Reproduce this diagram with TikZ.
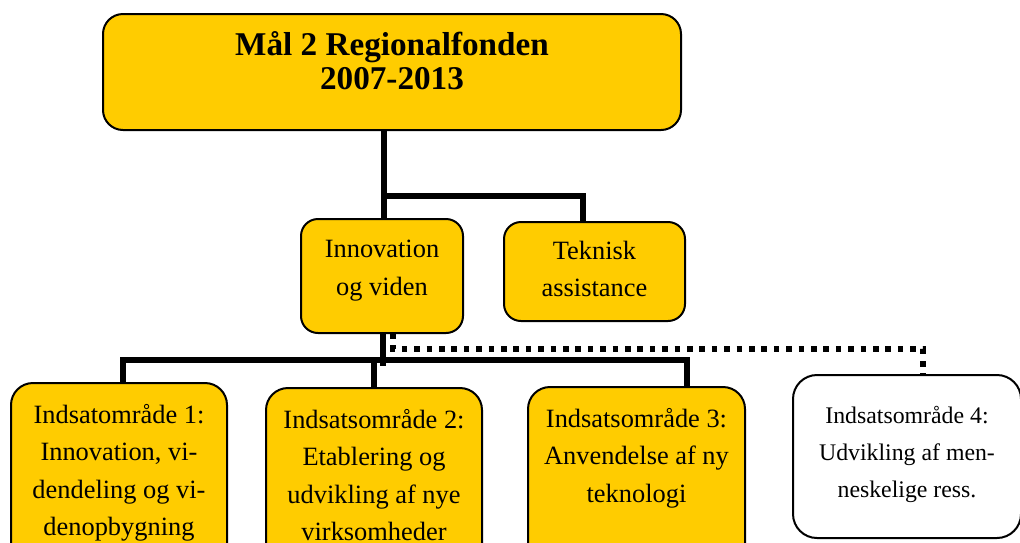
\documentclass[tikz,border=0pt]{standalone}
\usepackage{fontspec}
\setmainfont{Liberation Serif}
\definecolor{gold}{HTML}{FFCC00}
\newcommand{\boxtext}[6]{\parbox[c][#2][t]{#1}{\centering\fontsize{#3}{#4}\selectfont\rule{0pt}{#5}\ignorespaces #6}}
\tikzset{
  box/.style={draw=black, line width=2pt, rounded corners=20pt, inner sep=0pt, outer sep=0pt, anchor=north west},
  ybox/.style={box, fill=gold},
  wbox/.style={box, fill=white},
  conn/.style={line width=5.5pt, line cap=butt, line join=miter},
  dotc/.style={line width=5.5pt, line cap=butt, dash pattern=on 5.5pt off 6.9pt}
}
\begin{document}
\begin{tikzpicture}[x=1pt,y=-1pt]
\useasboundingbox (0,0) rectangle (1020,542);
% boxes
\node[ybox] (top) at (103,14) {\boxtext{578pt}{116pt}{33.2}{34}{41pt}{\bfseries Mål 2 Regionalfonden\\2007-2013}};
\node[ybox, rounded corners=17pt] (inn) at (301,219) {\boxtext{162pt}{114pt}{26.4}{38}{38pt}{Innovation\\og viden}};
\node[ybox, rounded corners=17pt] (tek) at (504,222) {\boxtext{181pt}{99pt}{26.4}{37}{37pt}{Teknisk\\assistance}};
\node[ybox, rounded corners=22pt] (b1) at (11,383) {\boxtext{216pt}{200pt}{26.4}{37.5}{40pt}{Indsatområde 1:\\Innovation, vi-\\dendeling og vi-\\denopbygning}};
\node[ybox, rounded corners=22pt] (b2) at (266,388) {\boxtext{216pt}{200pt}{26.4}{37.5}{40pt}{Indsatsområde 2:\\Etablering og\\udvikling af nye\\virksomheder}};
\node[ybox, rounded corners=22pt] (b3) at (528,387) {\boxtext{217pt}{200pt}{26.4}{37.5}{40pt}{Indsatsområde 3:\\Anvendelse af ny\\teknologi}};
\node[wbox, rounded corners=24pt] (b4) at (793,375) {\boxtext{228pt}{163pt}{23.8}{37}{48pt}{Indsatsområde 4:\\Udvikling af men-\\neskelige ress.}};
% junction coordinates
\coordinate (j1) at (384,196);
\coordinate (dt) at (583,196);
\coordinate (j2) at (383,366);
\coordinate (d1) at (123,360);
\coordinate (d2) at (374,360);
\coordinate (d3) at (687,360);
\coordinate (e1) at (393,349);
\coordinate (e2) at (923,349);
% connectors
\draw[conn] (top.south -| j1) -- (j1 |- inn.north);
\draw[conn] (j1) -- (dt) -- (dt |- tek.north);
\draw[conn] (inn.south -| j2) -- (j2);
\draw[conn] (d1 |- b1.north) -- (d1) -- (d3) -- (d3 |- b3.north);
\draw[conn] (d2) -- (d2 |- b2.north);
\draw[dotc] (inn.south -| e1) -- (e1) -- (e2) -- (e2 |- b4.north);
\end{tikzpicture}
\end{document}
